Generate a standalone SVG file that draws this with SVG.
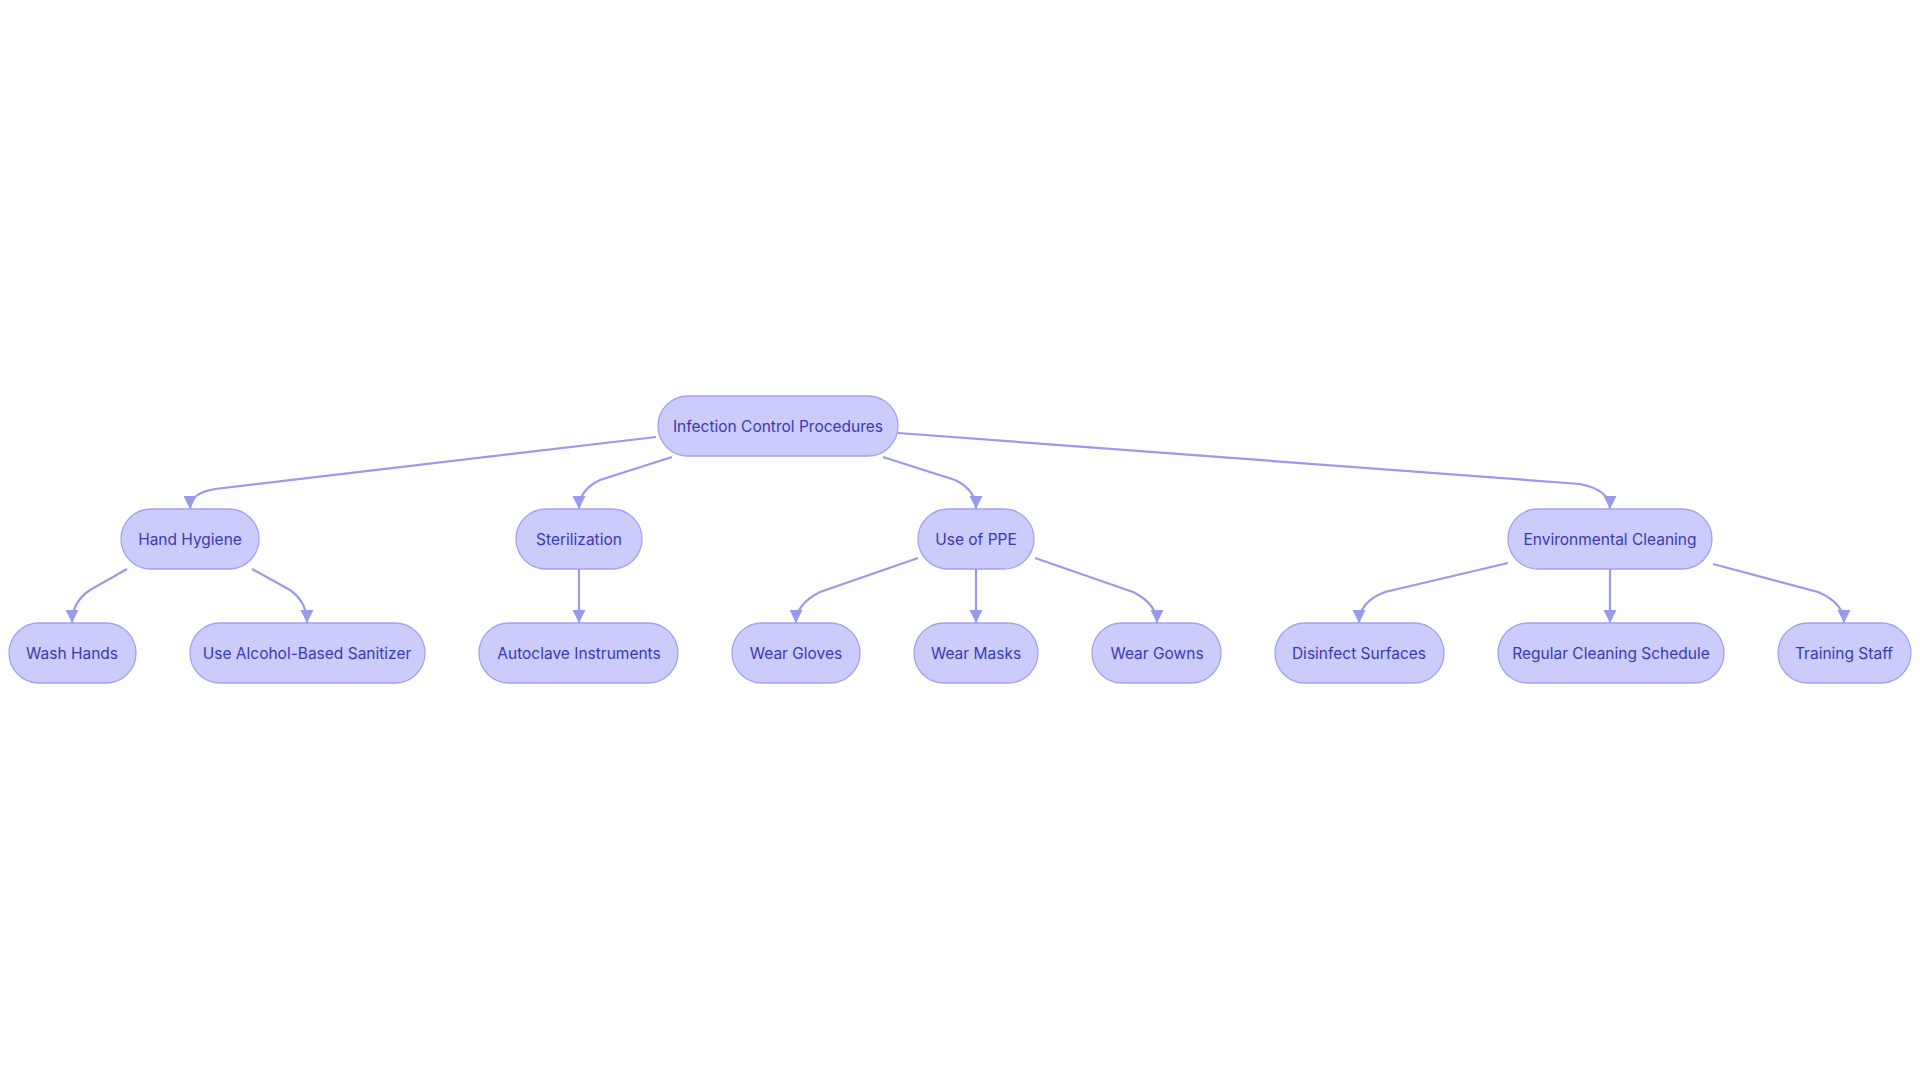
<svg xmlns="http://www.w3.org/2000/svg" width="1920" height="1083" viewBox="0 0 1920 1083">
<style>
.n rect{fill:#cbcbfc;stroke:#a3a3ee;stroke-width:1.3}
.n text{font-family:Inter,"Noto Sans",sans-serif;font-size:15.5px;fill:#3a3ab0;text-anchor:middle;dominant-baseline:central}
.e path{fill:none;stroke:#9a9aea;stroke-width:2.2;marker-end:url(#a)}
</style>
<defs><marker id="a" viewBox="0 0 10 10" refX="10" refY="5" markerWidth="6" markerHeight="6" orient="auto-start-reverse" markerUnits="strokeWidth"><path d="M0,0L10,5L0,10z" fill="#9a9aea"/></marker></defs>
<rect width="1920" height="1083" fill="#fff"/>
<g class="e">
<path d="M656,437 L215,489 Q190,493 190,509"/>
<path d="M672,457 L600,480 Q579,490 579,509"/>
<path d="M883,457 L955,480 Q976,490 976,509"/>
<path d="M898,433 L1580,484 Q1610,490 1610,509"/>
<path d="M127,569 L90,590 Q72,602 72,623"/>
<path d="M252,569 L290,590 Q307,602 307,623"/>
<path d="M579,569 L579,623"/>
<path d="M918,558 L820,592 Q796,604 796,623"/>
<path d="M976,569 L976,623"/>
<path d="M1035,558 L1133,592 Q1157,604 1157,623"/>
<path d="M1508,563 L1385,592 Q1359,602 1359,623"/>
<path d="M1610,569 L1610,623"/>
<path d="M1713,564 L1818,592 Q1844,603 1844,623"/>
</g>
<g class="n" id="root"><rect x="658" y="396" width="240" height="60" rx="30"/><text x="778" y="426">Infection Control Procedures</text></g>
<g class="n" id="hh"><rect x="121" y="509" width="138" height="60" rx="30"/><text x="190" y="539">Hand Hygiene</text></g>
<g class="n" id="st"><rect x="516" y="509" width="126" height="60" rx="30"/><text x="579" y="539">Sterilization</text></g>
<g class="n" id="ppe"><rect x="918" y="509" width="116" height="60" rx="30"/><text x="976" y="539">Use of PPE</text></g>
<g class="n" id="env"><rect x="1508" y="509" width="204" height="60" rx="30"/><text x="1610" y="539">Environmental Cleaning</text></g>
<g class="n" id="wash"><rect x="9" y="623" width="127" height="60" rx="30"/><text x="72" y="653">Wash Hands</text></g>
<g class="n" id="alc"><rect x="190" y="623" width="235" height="60" rx="30"/><text x="307" y="653">Use Alcohol-Based Sanitizer</text></g>
<g class="n" id="auto"><rect x="479" y="623" width="199" height="60" rx="30"/><text x="579" y="653">Autoclave Instruments</text></g>
<g class="n" id="glv"><rect x="732" y="623" width="128" height="60" rx="30"/><text x="796" y="653">Wear Gloves</text></g>
<g class="n" id="msk"><rect x="914" y="623" width="124" height="60" rx="30"/><text x="976" y="653">Wear Masks</text></g>
<g class="n" id="gwn"><rect x="1092" y="623" width="129" height="60" rx="30"/><text x="1157" y="653">Wear Gowns</text></g>
<g class="n" id="dis"><rect x="1275" y="623" width="169" height="60" rx="30"/><text x="1359" y="653">Disinfect Surfaces</text></g>
<g class="n" id="reg"><rect x="1498" y="623" width="226" height="60" rx="30"/><text x="1611" y="653">Regular Cleaning Schedule</text></g>
<g class="n" id="trn"><rect x="1778" y="623" width="133" height="60" rx="30"/><text x="1844" y="653">Training Staff</text></g>
</svg>
